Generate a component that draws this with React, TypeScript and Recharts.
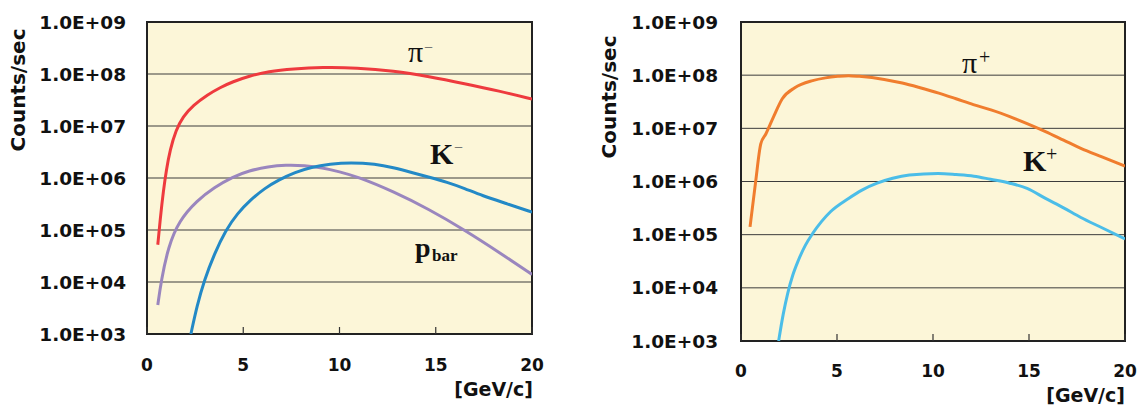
import React from 'react'
import { LineChart, Line, XAxis, YAxis, CartesianGrid, ReferenceArea } from 'recharts'

// momentum ticks [GeV/c] and rate ticks (counts/sec)
const momentumTicks = [0, 5, 10, 15, 20]
const rateTicks = [1e3, 1e4, 1e5, 1e6, 1e7, 1e8, 1e9]

// negative particles (left panel)
const piMinusP = [0.56, 0.7, 0.85, 1.0, 1.2, 1.5, 1.86, 2.4, 3.15, 3.8, 4.45, 5.3, 6.3, 7.6, 9.1, 10.9, 12.8, 14.65, 16.5, 18.3, 20]
const piMinusRate = [5.2e4, 1.8e5, 5.6e5, 1.4e6, 3.5e6, 8.3e6, 1.5e7, 2.5e7, 4.0e7, 5.5e7, 7.1e7, 9.1e7, 1.12e8, 1.26e8, 1.35e8, 1.32e8, 1.15e8, 8.9e7, 6.5e7, 4.7e7, 3.3e7]

const pbarP = [0.56, 0.74, 1.1, 1.66, 2.6, 3.5, 4.45, 5.3, 6.3, 7.2, 8.2, 9.1, 10.0, 10.9, 12.8, 14.65, 16.5, 18.4, 20]
const pbarRate = [3.6e3, 1.07e4, 4.7e4, 1.5e5, 3.7e5, 6.6e5, 1.05e6, 1.38e6, 1.66e6, 1.78e6, 1.74e6, 1.58e6, 1.32e6, 1.07e6, 5.5e5, 2.5e5, 1.0e5, 3.5e4, 1.4e4]

const kMinusP = [2.28, 2.6, 2.97, 3.5, 4.08, 4.7, 5.38, 6.1, 6.86, 7.7, 8.53, 9.5, 10.57, 11.87, 12.8, 13.7, 14.6, 15.6, 16.5, 17.4, 18.7, 20]
const kMinusRate = [1.0e3, 3.5e3, 1.07e4, 3.5e4, 9.8e4, 2.1e5, 3.8e5, 6.3e5, 9.3e5, 1.29e6, 1.62e6, 1.86e6, 2.0e6, 1.86e6, 1.58e6, 1.29e6, 1.05e6, 8.3e5, 6.3e5, 4.6e5, 3.2e5, 2.2e5]

// positive particles (right panel)
const piPlusP = [0.47, 0.75, 1.03, 1.3, 1.7, 2.15, 2.8, 3.73, 4.4, 5.04, 5.6, 6.16, 7.46, 8.4, 9.33, 10.3, 11.2, 12.1, 13.06, 14.0, 14.9, 15.86, 16.8, 17.7, 18.8, 20]
const piPlusRate = [1.4e5, 9.1e5, 5.1e6, 7.9e6, 1.66e7, 3.6e7, 5.8e7, 7.9e7, 8.9e7, 9.5e7, 9.8e7, 9.5e7, 8.3e7, 7.1e7, 5.8e7, 4.6e7, 3.6e7, 2.8e7, 2.2e7, 1.66e7, 1.23e7, 8.7e6, 6.0e6, 4.2e6, 2.9e6, 1.95e6]

const kPlusP = [1.96, 2.2, 2.43, 2.7, 2.99, 3.35, 3.73, 4.2, 4.66, 5.6, 6.3, 7.09, 7.9, 8.77, 10.26, 11.2, 12.13, 13.0, 14.0, 14.9, 15.86, 16.8, 17.7, 18.8, 20]
const kPlusRate = [1e3, 3.2e3, 7.8e3, 1.74e4, 3.3e4, 6.3e4, 1.05e5, 1.78e5, 2.7e5, 4.8e5, 6.9e5, 9.3e5, 1.15e6, 1.32e6, 1.41e6, 1.35e6, 1.26e6, 1.1e6, 9.3e5, 7.4e5, 4.8e5, 3.2e5, 2.1e5, 1.35e5, 8.3e4]

const BG = '#FCF6D8'
const SANS = "'DejaVu Sans', sans-serif"
const SERIF = "'Liberation Serif', 'Times New Roman', serif"

const zip = (p: number[], r: number[]) => p.map((x, i) => ({ p: x, rate: r[i] }))
const fmtRate = (v: number) => `1.0E+0${Math.round(Math.log10(v))}`

type Series = { name: string; data: { p: number; rate: number }[]; color: string; curve: 'basis' | 'monotone' }

interface PanelProps {
  left: number
  width: number
  margin: { top: number; right: number; bottom: number; left: number }
  xTickMargin: number
  yTickMargin: number
  series: Series[]
}

function Panel({ left, width, margin, xTickMargin, yTickMargin, series }: PanelProps) {
  return (
    <div style={{ position: 'absolute', left, top: 0 }}>
      <LineChart width={width} height={406} margin={margin}>
        <CartesianGrid vertical={false} stroke="#3c3c3c" strokeWidth={1} fill={BG} fillOpacity={1} />
        <XAxis
          type="number"
          dataKey="p"
          domain={[0, 20]}
          ticks={momentumTicks}
          interval={0}
          allowDataOverflow
          axisLine={false}
          tickSize={-7}
          tickLine={{ stroke: '#333', strokeWidth: 1.2 }}
          tickMargin={xTickMargin}
          height={40}
          tick={{ fontSize: 17, fontWeight: 'bold', fill: '#111', fontFamily: SANS }}
        />
        <YAxis
          type="number"
          scale="log"
          domain={[1e3, 1e9]}
          ticks={rateTicks}
          interval={0}
          allowDataOverflow
          axisLine={false}
          tickLine={false}
          tickSize={0}
          tickMargin={yTickMargin}
          width={120}
          tickFormatter={fmtRate}
          tick={{ fontSize: 18.5, fontWeight: 'bold', fill: '#111', fontFamily: SANS }}
        />
        <ReferenceArea x1={0} x2={20} y1={1e3} y2={1e9} fill="none" stroke="#222" strokeWidth={2} ifOverflow="visible" />
        {series.map((s) => (
          <Line
            key={s.name}
            data={s.data}
            dataKey="rate"
            type={s.curve}
            stroke={s.color}
            strokeWidth={3}
            dot={false}
            activeDot={false}
            isAnimationActive={false}
          />
        ))}
      </LineChart>
    </div>
  )
}

const leftSeries: Series[] = [
  { name: 'pi-', data: zip(piMinusP, piMinusRate), color: '#EE3A3E', curve: 'basis' },
  { name: 'pbar', data: zip(pbarP, pbarRate), color: '#9A86BE', curve: 'basis' },
  { name: 'K-', data: zip(kMinusP, kMinusRate), color: '#2389C6', curve: 'basis' },
]

const rightSeries: Series[] = [
  { name: 'pi+', data: zip(piPlusP, piPlusRate), color: '#F07D2E', curve: 'monotone' },
  { name: 'K+', data: zip(kPlusP, kPlusRate), color: '#4BBDE8', curve: 'monotone' },
]

const axisText = { fontFamily: SANS, fontWeight: 'bold' as const, fill: '#111' }
const labelText = { fontFamily: SERIF, fill: '#111' }

export default function App() {
  return (
    <div style={{ position: 'absolute', left: 0, top: 0, width: 1139, height: 406, background: '#fff' }}>
      <Panel
        left={0}
        width={580}
        margin={{ top: 22, right: 48, bottom: 32, left: 27 }}
        xTickMargin={32}
        yTickMargin={21}
        series={leftSeries}
      />
      <Panel
        left={580}
        width={559}
        margin={{ top: 22, right: 14, bottom: 25, left: 41 }}
        xTickMargin={31}
        yTickMargin={23}
        series={rightSeries}
      />
      <svg width={1139} height={406} style={{ position: 'absolute', left: 0, top: 0, pointerEvents: 'none' }}>
        <text {...axisText} fontSize={20} x={18} y={90} textAnchor="middle" dominantBaseline="central" transform="rotate(-90 18 90)">Counts/sec</text>
        <text {...axisText} fontSize={20} x={609} y={97} textAnchor="middle" dominantBaseline="central" transform="rotate(-90 609 97)">Counts/sec</text>
        <text {...axisText} fontSize={19} x={533} y={396} textAnchor="end">[GeV/c]</text>
        <text {...axisText} fontSize={19} x={1125} y={402} textAnchor="end">[GeV/c]</text>

        <text {...labelText} fontSize={30} x={408} y={62}>π</text>
        <text {...labelText} fontSize={16} x={424} y={53} fill="#666">−</text>
        <text {...labelText} fontSize={30} fontWeight="bold" x={430} y={164}>K</text>
        <text {...labelText} fontSize={16} x={454} y={153} fill="#666">−</text>
        <text {...labelText} fontSize={28} fontWeight="bold" x={415} y={257}>p</text>
        <text {...labelText} fontSize={17} fontWeight="bold" x={432} y={261}>bar</text>

        <text {...labelText} fontSize={30} x={962} y={73}>π</text>
        <text {...labelText} fontSize={20} x={979} y={64}>+</text>
        <text {...labelText} fontSize={30} fontWeight="bold" x={1023} y={171}>K</text>
        <text {...labelText} fontSize={20} x={1046} y={161}>+</text>
      </svg>
    </div>
  )
}
